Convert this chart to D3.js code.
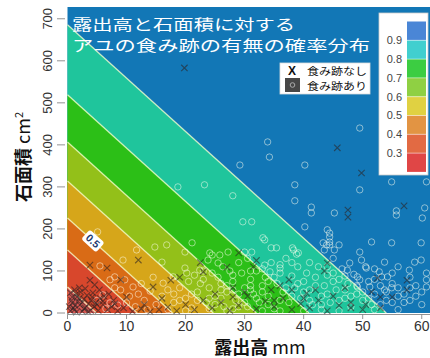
<!DOCTYPE html>
<html><head><meta charset="utf-8">
<script src="https://cdn.jsdelivr.net/npm/d3@7/dist/d3.min.js"></script>
<style>
html,body{margin:0;padding:0;background:#fff;}
svg{display:block;}
</style></head>
<body><svg id="c" width="430" height="358"></svg>
<script>
// ---- data ----
const levels = [0.3, 0.4, 0.5, 0.6, 0.7, 0.8, 0.9];
const contourYAtX0 = [62, 150, 226, 314, 407, 519, 686];      // 石面積 where contour meets x=0
const contourXAtY0 = [4.9, 11.8, 17.8, 24.7, 32.0, 40.9, 54.0]; // 露出高 where contour meets y=0
const xTicks = [0, 10, 20, 30, 40, 50, 60];
const yTicks = [0, 100, 200, 300, 400, 500, 600, 700];
const legendLabels = ["0.9", "0.8", "0.7", "0.6", "0.5", "0.4", "0.3"];
const titleLines = ["露出高と石面積に対する", "アユの食み跡の有無の確率分布"];
const symbolLegend = ["食み跡なし", "食み跡あり"];

// 食み跡なし (x marks): [露出高 mm, 石面積 cm2]
const absent = [
[19.8,583],[45.7,393],[49.8,333],[58,385],[57,255],[47.5,245],[47.5,228],[52.5,83],[57.5,78],[57.5,55],
[55,38],[53,38],[51.5,50],[40,35],[40.5,47],[34.5,55],[37.5,79],[44,119],[43.5,100],[29,143],[32,125],
[12,126],[3.8,114],[6.7,107],[3.8,78],[4.6,67],[5.4,55],[4.3,48],[1.6,38],[0.8,24],[2.1,19],[1.0,12],
[2,60],[9,79],[10,38],[22.5,120],[19,85],[17.5,78],[14.5,62],[27,109],[23,98],[31.5,110],
[0.5,5],[1.2,8],[2.5,4],[3,12],[0.7,30],[1.8,28],[2.8,33],[3.6,22],[4.5,15],[5.2,6],[6,20],[0.3,15],
[1.5,45],[2.2,50],[3.3,42],[4,30],[5.5,35],[6.8,8],[7.5,15],[8.5,5],[9.5,12],[11,4],[12.5,10],[14,3],
[15.5,8],[17,14],[18.5,5],[20,20],[21.5,8],[23,30],[24.5,12],[26,25],[27.5,6],[29,18],[30.5,40],[32,10],
[33.5,28],[35,15],[36.5,35],[38,8],[39.5,22],[41,12],[42.5,30],[44,5],[46,18],[48,12],[50.5,20],[50,8],
[2.5,25],[1.5,2],[3.5,3],[4.8,24],[6.2,40],[7.8,30],[13,20],[16,35],[25,45],[28,60],[36,65],[42,55],
[0.8,38],[1.3,18],[2.8,10],[3.9,6],[0.5,48],[2,35],[4.2,38],[5,20],[1.2,55],[3,58],[6,28],[7,45],[8,22],
[30,50],[38,55],[45,40],[35,30],[28,38],[48,25],[53,12],[47,60]
];
// 食み跡あり (o marks)
const present = [
[49.5,440],[33.9,407],[34.2,371],[29.2,352],[40.2,352],[57.5,410],[38.5,305],[28,279],[49.5,293],[54.9,312],
[60.8,312],[38.5,267],[41.3,252],[41.3,238],[45.2,238],[40.2,205],[29.7,217],[31.2,217],[33.4,174],[35.4,155],
[38.1,155],[38.8,140],[44,198],[44.4,181],[44.4,169],[43.9,162],[43.5,150],[45.2,150],[55.7,243],[55.7,233],
[60.1,226],[60.5,250],[51.5,169],[54.9,167],[59.9,167],[49.5,145],[49.8,126],[53.7,121],[58.8,121],[59.9,126],
[50.6,107],[52.8,98],[53.2,86],[54.2,86],[57.9,102],[60.8,95],[60.8,79],[60.8,62],[49.1,86],[49.5,79],
[49.1,62],[51.2,62],[53.7,55],[54.9,60],[47.8,119],[47.4,102],
[5.5,112],[5.1,193],[11.7,150],[9.4,126],[14.8,157],[16.8,162],[21.1,167],[19.9,145],[18.7,300],[23.2,305],
[24.1,143],[16,121],[19.9,107],[22.4,102],[7.2,79],[8,86],[9.7,79],[11.1,62],[6,43],[7.2,24],[8.5,19],[10,24],
[23.8,126],[24.5,138],[25.8,138],[27.2,145],[26.3,110],[25.5,119],[23,100],[20.2,95],[17.9,86],[16.2,71],
[33.1,179],[34.5,155],[38.3,150],[39.1,143],[30,145],[31.2,145],[44.4,190],[43.3,167],[44.4,162],[46,162],
[33.4,114],[34.3,98],[36,107],
[12,45],[13,30],[14,52],[15,20],[16,40],[17,55],[18,25],[19,60],[20,35],[21,12],[22,50],[22.5,70],[23.5,25],
[24,60],[25,40],[25.5,85],[26.5,15],[27,50],[28,75],[28.5,30],[29.5,95],[30,60],[30.5,15],[31,80],[31.5,45],
[32,100],[32.5,25],[33,65],[33.5,85],[34,40],[34.5,120],[35,10],[35.5,70],[36,95],[36.5,50],[37,130],[37.5,25],
[38,88],[38.5,60],[39,110],[39.5,35],[40,75],[40.5,95],[41,55],[41.5,20],[42,85],[42.5,110],[43,40],[43.5,65],
[44,90],[44.5,25],[45,130],[45.5,55],[46,80],[46.5,105],[47,35],[47.5,70],[48,15],[48.5,92],[49,45],[50,30],
[50.5,110],[51,75],[51.5,20],[52,45],[53,65],[54,30],[55,70],[56,40],[57,25],[58,60],[59,40],[60,20],
[9,55],[10.5,40],[11.5,15],[12.5,70],[13.5,8],[14.5,85],[8,60],[6.5,10],[5,30],
[20.5,75],[21.5,90],[22,30],[23,80],[24.5,95],[26,70],[27.5,100],[28,55],[29,120],[30.5,130],[31,100],
[29,15],[27,5],[24,10],[20,5],[17,8],[40,5],[43,8],[46,5],[52,8],[56,8],[36,5],[33,5],
[25,20],[26,35],[27,65],[28,10],[29,45],[30,25],[31,55],[32,35],[33,50],[34,20],[35,85],[36,30],[37,60],
[38,40],[39,70],[40,50],[41,30],[42,65],[43,20],[44,45],[45,75],[46,30],[47,55],[48,40],[49,65],[50,50],
[51,35],[52,80],[53,20],[54,50],[55,25],[56,60],[57,45],[58,30],[59,65],[60,50],[44,110],[45,95],[47,88],
[41,120],[38,120],[36,115],[33,105],[52,105],[55,95],[56,110],[58,85],[34,75],[31,65],[28,90],[26,55],
[24,35],[21,45],[19,30],[18,45]
];

// ---- styles ----
const bandFill = ["#df5a55","#d8472c","#d96b16","#d6a61a","#93c019","#2cbf17","#1fc59c","#1277b6"];
const legendFill = ["#4a86d6","#41cfcf","#3ccd42","#8fd043","#e0d142","#e29443","#e26a43","#e04646"];

const svg = d3.select("#c");
const x = d3.scaleLinear().domain([0, 61.4]).range([67.5, 430]);
const y = d3.scaleLinear().domain([0, 728]).range([313, 7]);

// background band (>0.9)
svg.append("rect").attr("x", x(0)).attr("y", y(728))
  .attr("width", x(61.4) - x(0)).attr("height", y(0) - y(728))
  .attr("fill", bandFill[7]);

// nested triangles below each contour level
for (let i = levels.length - 1; i >= 0; i--) {
  const pts = [[0,0],[0,contourYAtX0[i]],[contourXAtY0[i],0]];
  svg.append("polygon")
    .attr("points", pts.map(p => x(p[0]) + "," + y(p[1])).join(" "))
    .attr("fill", bandFill[i]);
}
// contour lines
levels.forEach((lv, i) => {
  svg.append("line")
    .attr("x1", x(0)).attr("y1", y(contourYAtX0[i]))
    .attr("x2", x(contourXAtY0[i])).attr("y2", y(0))
    .attr("stroke", "rgba(245,255,205,0.8)").attr("stroke-width", 1.3);
});

// points
svg.append("g").selectAll("circle").data(present).join("circle")
  .attr("cx", d => x(d[0])).attr("cy", d => y(d[1])).attr("r", 3.2)
  .attr("fill", "none").attr("stroke", "rgba(255,255,240,0.5)").attr("stroke-width", 1);
svg.append("g").selectAll("path").data(absent).join("path")
  .attr("d", d => { const cx = x(d[0]), cy = y(d[1]), s = 3.2;
    return `M${cx-s},${cy-s}L${cx+s},${cy+s}M${cx-s},${cy+s}L${cx+s},${cy-s}`; })
  .attr("stroke", "rgba(45,35,35,0.6)").attr("stroke-width", 1.1);

// contour label 0.5
{
  const i = levels.indexOf(0.5);
  const lx = 4.3;
  const ly = contourYAtX0[i] * (1 - lx / contourXAtY0[i]);
  const ang = Math.atan2(y(0) - y(contourYAtX0[i]), x(contourXAtY0[i]) - x(0)) * 180 / Math.PI;
  const g = svg.append("g").attr("transform", `translate(${x(lx)},${y(ly)}) rotate(${ang})`);
  g.append("rect").attr("x", -10).attr("y", -6.5).attr("width", 20).attr("height", 13).attr("rx", 3)
    .attr("fill", "#fff");
  g.append("text").attr("text-anchor", "middle").attr("dy", "0.36em")
    .attr("font-family", "Liberation Sans, Arial, sans-serif").attr("font-weight", "bold")
    .attr("font-size", 10.5).attr("fill", "#1d3a6e").text(levels[i].toFixed(1));
}

// title
titleLines.forEach((t, i) => {
  svg.append("text").attr("x", 72).attr("y", 29.5 + i * 21.5)
    .attr("font-family", "Noto Sans CJK JP, sans-serif").attr("font-size", 15)
    .attr("fill", "#fff").attr("textLength", i === 0 ? 223 : 298)
    .attr("lengthAdjust", "spacingAndGlyphs").text(t);
});

// symbol legend
{
  const g = svg.append("g");
  g.append("rect").attr("x", 280).attr("y", 63).attr("width", 90).attr("height", 31)
    .attr("fill", "#fff").attr("stroke", "#ddd").attr("stroke-width", 0.8);
  g.append("text").attr("x", 292).attr("y", 74.5).attr("text-anchor", "middle")
    .attr("font-family", "Liberation Sans, Arial, sans-serif").attr("font-weight", "bold")
    .attr("font-size", 12).attr("fill", "#111").text("X");
  g.append("rect").attr("x", 285).attr("y", 78).attr("width", 15).attr("height", 14).attr("fill", "#474747");
  g.append("circle").attr("cx", 292.5).attr("cy", 85).attr("r", 2.3).attr("fill", "none")
    .attr("stroke", "#aaa").attr("stroke-width", 1);
  symbolLegend.forEach((t, i) => {
    g.append("text").attr("x", 307).attr("y", 74.5 + i * 15)
      .attr("font-family", "Noto Sans CJK JP, sans-serif").attr("font-size", 10)
      .attr("fill", "#111").attr("textLength", 60).attr("lengthAdjust", "spacingAndGlyphs").text(t);
  });
}

// colour legend
{
  const g = svg.append("g");
  g.append("rect").attr("x", 379).attr("y", 13).attr("width", 49).attr("height", 162)
    .attr("fill", "#fff").attr("stroke", "#ccc").attr("stroke-width", 0.8);
  const top = 21.5, h = 18.8;
  legendFill.forEach((c, i) => {
    g.append("rect").attr("x", 407).attr("y", top + i * h).attr("width", 19).attr("height", h)
      .attr("fill", c);
  });
  legendFill.forEach((c, i) => {
    if (i === 0) return;
    g.append("line").attr("x1", 407).attr("x2", 426).attr("y1", top + i * h).attr("y2", top + i * h)
      .attr("stroke", "rgba(255,255,255,0.6)").attr("stroke-width", 0.8);
  });
  legendLabels.forEach((t, i) => {
    g.append("text").attr("x", 402).attr("y", top + (i + 1) * h).attr("dy", "0.35em")
      .attr("text-anchor", "end").attr("font-family", "Liberation Sans, Arial, sans-serif")
      .attr("font-size", 11).attr("fill", "#444").text(t);
  });
}

// axes
const axisCol = "#777";
svg.append("line").attr("x1", x(0)).attr("x2", 430).attr("y1", 314.5).attr("y2", 314.5)
  .attr("stroke", axisCol).attr("stroke-width", 0.8);
xTicks.forEach(t => {
  svg.append("line").attr("x1", x(t)).attr("x2", x(t)).attr("y1", 314.5).attr("y2", 319)
    .attr("stroke", axisCol).attr("stroke-width", 0.8);
  svg.append("text").attr("x", x(t)).attr("y", 331).attr("text-anchor", "middle")
    .attr("font-family", "Liberation Sans, Arial, sans-serif").attr("font-size", 14)
    .attr("fill", "#333").text(t);
});
yTicks.forEach(t => {
  svg.append("line").attr("x1", 57).attr("x2", 65).attr("y1", y(t)).attr("y2", y(t))
    .attr("stroke", axisCol).attr("stroke-width", 0.8);
  svg.append("text").attr("transform", `translate(51.5,${y(t)}) rotate(-90)`)
    .attr("text-anchor", "middle").attr("font-family", "Liberation Sans, Arial, sans-serif")
    .attr("font-size", 13).attr("fill", "#333").text(t);
});

// axis titles
svg.append("text").attr("x", 260).attr("y", 354).attr("text-anchor", "middle")
  .attr("font-family", "Noto Sans CJK JP, sans-serif").attr("font-size", 18).attr("font-weight", "bold")
  .attr("fill", "#111")
  .call(t => { t.append("tspan").text("露出高"); t.append("tspan").attr("font-weight", "normal").text(" mm"); });
{
  const t = svg.append("text").attr("transform", "translate(30,157) rotate(-90)")
    .attr("text-anchor", "middle").attr("font-family", "Noto Sans CJK JP, sans-serif")
    .attr("font-size", 18).attr("font-weight", "bold").attr("fill", "#111");
  t.append("tspan").text("石面積");
  t.append("tspan").attr("font-weight", "normal").text(" cm");
  t.append("tspan").attr("font-size", 11).attr("dy", -7).attr("font-weight", "normal").text("2");
}
</script></body></html>
